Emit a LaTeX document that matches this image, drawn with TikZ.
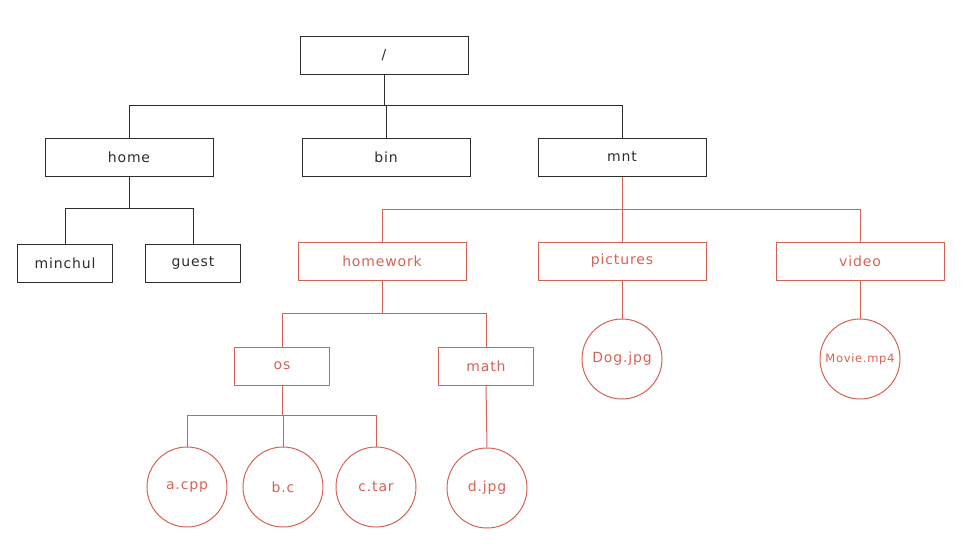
\documentclass[tikz,border=0pt]{standalone}
\usepackage{fontspec}
\setmainfont[LetterSpace=6]{DejaVu Sans}
\definecolor{ink}{RGB}{45,45,45}
\definecolor{hl}{RGB}{214,98,84}
\begin{document}
\begin{tikzpicture}[x=1pt,y=-1pt,
  font=\fontsize{14}{16}\selectfont,
  dirbox/.style={draw, rectangle, line width=1pt, minimum width=168pt, minimum height=38pt, inner sep=0pt},
  smallbox/.style={dirbox, minimum width=95pt},
  filecirc/.style={draw, circle, line width=1pt, minimum size=80pt, inner sep=0pt},
  blk/.style={draw=ink, text=ink},
  red/.style={draw=hl, text=hl},
  wire/.style={line width=1pt},
]
\useasboundingbox (0,0) rectangle (968,554);
% black nodes
\node[dirbox,blk] (root) at (384,55) {/};
\node[dirbox,blk] (home) at (129,157) {home};
\node[dirbox,blk] (bin) at (386,157) {bin};
\node[dirbox,blk] (mnt) at (622,157) {mnt};
\node[smallbox,blk] (minchul) at (65,263) {minchul};
\node[smallbox,blk] (guest) at (193,263) {guest};
% red nodes
\node[dirbox,red] (homework) at (382,261) {homework};
\node[dirbox,red] (pictures) at (622,261) {pictures};
\node[dirbox,red] (video) at (860,261) {video};
\node[smallbox,red] (os) at (282,366) {os};
\node[smallbox,red] (math) at (486,366) {math};
\node[filecirc,red] (dog) at (622,359) {Dog.jpg};
\node[filecirc,red,font=\fontsize{11.5}{13}\selectfont] (movie) at (860,359) {Movie.mp4};
\node[filecirc,red] (acpp) at (187,487) {a.cpp};
\node[filecirc,red] (bc) at (283,487) {b.c};
\node[filecirc,red] (ctar) at (376,487) {c.tar};
\node[filecirc,red] (djpg) at (487,488) {d.jpg};
% black connectors
\draw[wire,ink] (root.south) -- ++(0,31) -| (home.north);
\draw[wire,ink] (root.south) -- ++(0,31) -| (bin.north);
\draw[wire,ink] (root.south) -- ++(0,31) -| (mnt.north);
\draw[wire,ink] (home.south) -- ++(0,32) -| (minchul.north);
\draw[wire,ink] (home.south) -- ++(0,32) -| (guest.north);
% red connectors
\draw[wire,hl] (mnt.south) -- ++(0,33) -| (homework.north);
\draw[wire,hl] (mnt.south) -- ++(0,33) -| (pictures.north);
\draw[wire,hl] (mnt.south) -- ++(0,33) -| (video.north);
\draw[wire,hl] (homework.south) -- ++(0,33) -| (os.north);
\draw[wire,hl] (homework.south) -- ++(0,33) -| (math.north);
\draw[wire,hl] (pictures.south) -- (dog.north);
\draw[wire,hl] (video.south) -- (movie.north);
\draw[wire,hl] (os.south) -- ++(0,30) -| (acpp.north);
\draw[wire,hl] (os.south) -- ++(0,30) -| (bc.north);
\draw[wire,hl] (os.south) -- ++(0,30) -| (ctar.north);
\draw[wire,hl] (math.south) -- (djpg.north);
\end{tikzpicture}
\end{document}
